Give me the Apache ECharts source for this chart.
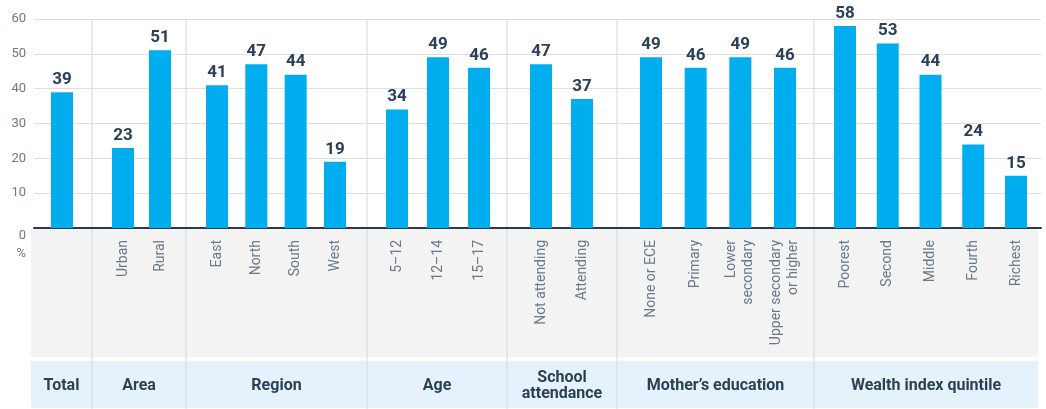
<!DOCTYPE html>
<html>
<head>
<meta charset="utf-8">
<script src="https://cdn.jsdelivr.net/npm/echarts@6/dist/echarts.min.js"></script>
<style>
  html, body { margin: 0; padding: 0; background: #fff; }
  #chart { width: 1046px; height: 409px; }
</style>
</head>
<body>
<div id="chart"></div>
<script>
// group titles (bottom band)
const groupNames = ['Total', 'Area', 'Region', 'Age', 'School\nattendance', 'Mother\u2019s education', 'Wealth index quintile'];

// categories per group
const totalCats = [''];
const areaCats = ['Urban', 'Rural'];
const regionCats = ['East', 'North', 'South', 'West'];
const ageCats = ['5\u201312', '12\u201314', '15\u201317'];
const schoolCats = ['Not attending', 'Attending'];
const motherCats = ['None or ECE', 'Primary', 'Lower\nsecondary', 'Upper secondary\nor higher'];
const wealthCats = ['Poorest', 'Second', 'Middle', 'Fourth', 'Richest'];

// values (%)
const totalVals = [39];
const areaVals = [23, 51];
const regionVals = [41, 47, 44, 19];
const ageVals = [34, 49, 46];
const schoolVals = [47, 37];
const motherVals = [49, 46, 49, 46];
const wealthVals = [58, 53, 44, 24, 15];

const yTicks = [0, 10, 20, 30, 40, 50, 60];

const groupCats = [totalCats, areaCats, regionCats, ageCats, schoolCats, motherCats, wealthCats];
const groupVals = [totalVals, areaVals, regionVals, ageVals, schoolVals, motherVals, wealthVals];

// layout (pixels)
const separators = [31, 92, 186, 367, 507, 617, 814, 1038];
const barSpan = [[62, 62], [123, 160], [217, 335], [397, 479], [541, 582], [651, 785], [845, 1016]];
const plotTop = 19, plotBottom = 228;

const BLUE = '#00aeef';
const NAVY = '#2b3f56';
const GREY_TEXT = '#6b7886';
const FONT = 'Roboto, "Liberation Sans", sans-serif';

const chart = echarts.init(document.getElementById('chart'));

const grids = [{ left: 34, right: 5, top: plotTop, height: plotBottom - plotTop }];
const xAxes = [{
  gridIndex: 0, type: 'category', data: [],
  axisLine: { show: true, lineStyle: { color: '#2b3a4f', width: 2 } },
  axisTick: { show: false }, axisLabel: { show: false }
}];
const yAxes = [{
  gridIndex: 0, type: 'value', min: yTicks[0], max: yTicks[yTicks.length - 1], interval: 10,
  name: '%', nameLocation: 'start', nameGap: 19,
  nameTextStyle: { color: GREY_TEXT, fontFamily: FONT, fontSize: 13, align: 'right', padding: [0, 8, 0, 0] },
  axisLine: { show: false }, axisTick: { show: false },
  axisLabel: {
    color: GREY_TEXT, fontFamily: FONT, fontSize: 13, margin: 8,
    formatter: v => v === 0 ? '{z|0}' : String(v),
    rich: { z: { color: GREY_TEXT, fontFamily: FONT, fontSize: 13, padding: [15, 0, 0, 0] } }
  },
  splitLine: { lineStyle: { color: '#dcdfe4', width: 1 } }
}];
const series = [];

groupCats.forEach((cats, i) => {
  const n = cats.length;
  const [c1, c2] = barSpan[i];
  const step = n > 1 ? (c2 - c1) / (n - 1) : 44;
  grids.push({ left: c1 - step / 2, width: step * n, top: plotTop, height: plotBottom - plotTop });
  xAxes.push({
    gridIndex: i + 1, type: 'category', data: cats,
    axisLine: { show: false }, axisTick: { show: false },
    axisLabel: {
      rotate: 90, margin: 12, interval: 0, color: GREY_TEXT,
      fontFamily: FONT, fontSize: 14, lineHeight: 17
    }
  });
  yAxes.push({
    gridIndex: i + 1, type: 'value', min: 0, max: 60, interval: 10, show: false,
    splitLine: { show: false }
  });
  series.push({
    type: 'bar', xAxisIndex: i + 1, yAxisIndex: i + 1,
    data: groupVals[i], barWidth: 22,
    itemStyle: { color: BLUE },
    label: {
      show: true, position: 'top', distance: 4,
      color: NAVY, fontFamily: FONT, fontWeight: 'bold', fontSize: 17
    }
  });
});

const graphics = [
  { type: 'rect', z: -10, shape: { x: 31, y: 229, width: 1007, height: 128 }, style: { fill: '#f3f3f3' } },
  { type: 'rect', z: -10, shape: { x: 31, y: 361, width: 1007, height: 47 }, style: { fill: '#e6f2fb' } }
];
separators.slice(1, -1).forEach(x => {
  graphics.push({
    type: 'line', z: -5,
    shape: { x1: x, y1: plotTop, x2: x, y2: 409 },
    style: { stroke: '#d3d7dd', lineWidth: 1 }
  });
});
groupNames.forEach((name, i) => {
  graphics.push({
    type: 'text', z: 5,
    x: (separators[i] + separators[i + 1]) / 2, y: 386,
    style: {
      text: name, align: 'center', verticalAlign: 'middle',
      fill: NAVY, font: 'bold 16px ' + FONT, lineHeight: 16
    }
  });
});

chart.setOption({
  animation: false,
  grid: grids,
  xAxis: xAxes,
  yAxis: yAxes,
  series: series,
  graphic: graphics
});
</script>
</body>
</html>
